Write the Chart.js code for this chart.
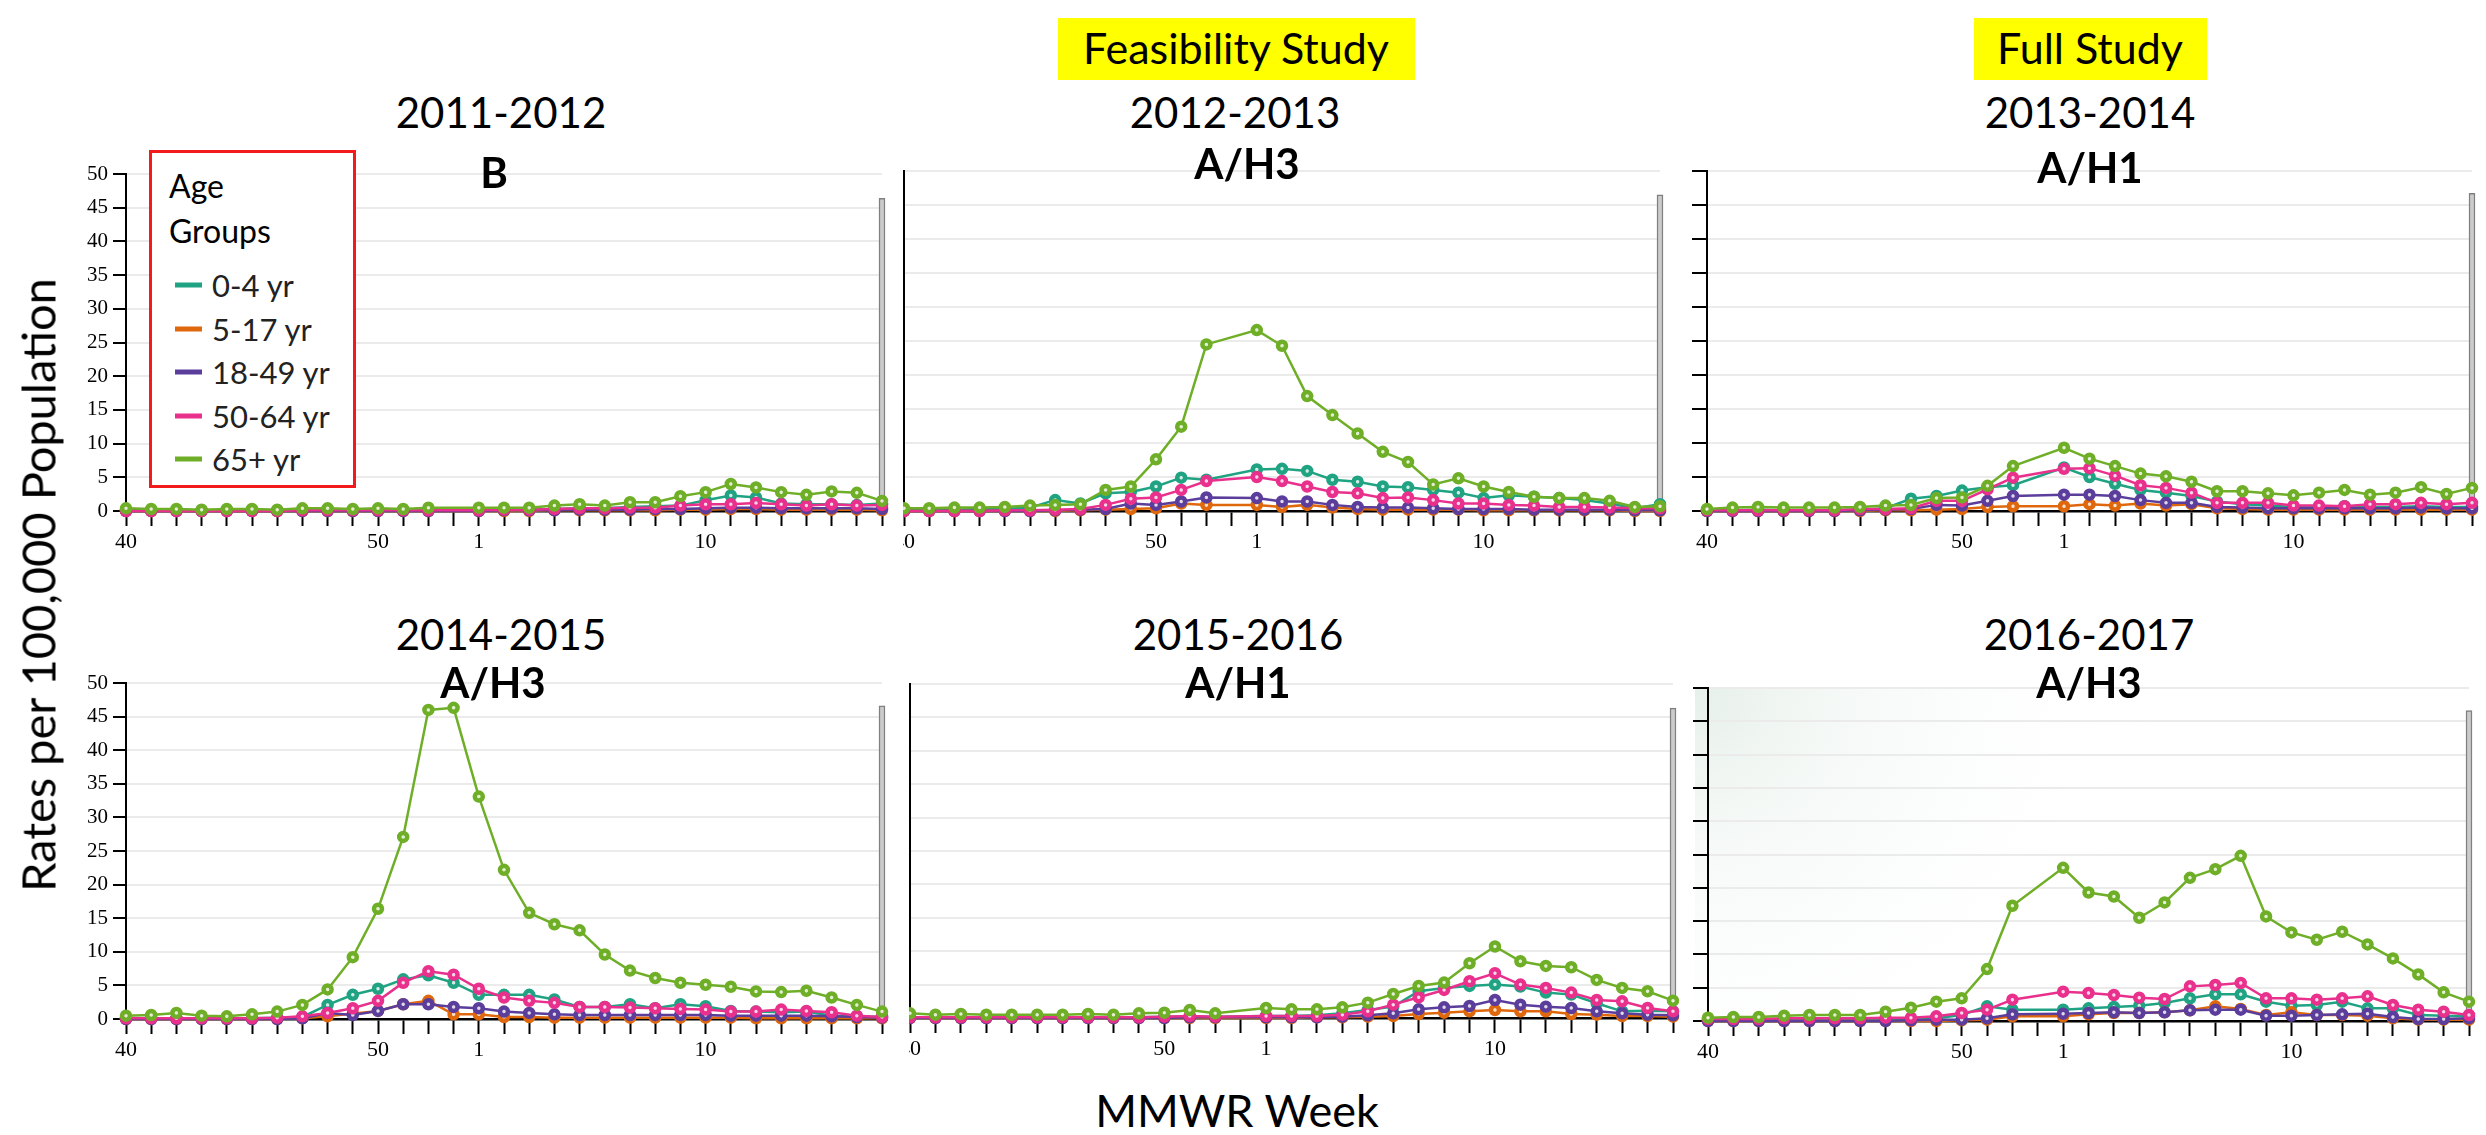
<!DOCTYPE html>
<html>
<head>
<meta charset="utf-8">
<title>Influenza hospitalization rates by age group</title>
<script src="https://cdn.jsdelivr.net/npm/chart.js@4.4.1/dist/chart.umd.min.js"></script>
<style>
  html, body { margin: 0; padding: 0; background: #fff; }
  #page { position: relative; width: 2486px; height: 1135px; overflow: hidden; font-family: Lato, sans-serif; }
  #page canvas { position: absolute; }
  .txt { position: absolute; transform: translate(-50%, -50%); white-space: nowrap; color: #000; line-height: 1; z-index: 5; }
  .tag { position: absolute; background: #ffff00; z-index: 4; }
  #legend { position: absolute; box-sizing: border-box; border: 3px solid #f21a1a; background: #fff; z-index: 6; }
  #legend .row { position: absolute; white-space: nowrap; line-height: 1; font-size: 31px; color: #222; transform: translateY(-50%); }
  #legend .sw { position: absolute; height: 5px; transform: translateY(-50%); }
</style>
</head>
<body>
<div id="page"></div>
<script>
// MMWR weeks on the x axis (week 53 only exists in 2014-2015)
const weekLabels = ['40','41','42','43','44','45','46','47','48','49','50','51','52','53',
  '1','2','3','4','5','6','7','8','9','10','11','12','13','14','15','16','17'];
const labeledWeeks = ['40', '50', '1', '10'];

const ageGroups = ['0-4 yr', '5-17 yr', '18-49 yr', '50-64 yr', '65+ yr'];
const ageColors = ['#1fa383', '#e0680c', '#5b3d9c', '#e8308c', '#6fae27'];

const seasons = ['2011-2012', '2012-2013', '2013-2014', '2014-2015', '2015-2016', '2016-2017'];
const strains = ['B', 'A/H3', 'A/H1', 'A/H3', 'A/H1', 'A/H3'];
const yTicks = [0, 5, 10, 15, 20, 25, 30, 35, 40, 45, 50];

// rates per 100,000
const s2011_0to4   = [0.1,0.1,0.1,0.1,0.1,0.2,0.1,0.2,0.3,0.1,0.1,0.1,0.1,null,0.1,0.1,0.2,0.3,0.4,0.4,0.6,0.7,0.8,1.6,2.3,2.0,1.1,1.0,1.0,0.9,1.1];
const s2011_5to17  = [0,0,0,0,0,0,0,0,0,0,0,0,0,null,0,0,0,0.1,0.1,0.1,0.1,0.1,0.2,0.2,0.3,0.3,0.2,0.2,0.2,0.2,0.1];
const s2011_18to49 = [0,0,0,0,0,0,0,0,0,0,0,0,0,null,0,0.1,0.1,0.1,0.2,0.2,0.2,0.3,0.3,0.4,0.5,0.5,0.4,0.4,0.4,0.4,0.3];
const s2011_50to64 = [0,0,0,0,0,0,0,0.1,0.1,0.1,0.1,0.1,0.1,null,0.1,0.2,0.2,0.3,0.4,0.4,0.5,0.5,0.8,1.0,1.0,1.2,1.0,0.8,1.0,0.8,0.9];
const s2011_65up   = [0.4,0.3,0.3,0.2,0.3,0.3,0.2,0.4,0.4,0.3,0.4,0.3,0.5,null,0.5,0.5,0.5,0.8,1.0,0.8,1.3,1.3,2.2,2.8,4.0,3.5,2.8,2.4,2.9,2.7,1.5];

const s2012_0to4   = [0.2,0.2,0.2,0.3,0.3,0.5,1.6,1.1,2.6,2.8,3.6,4.9,4.6,null,6.1,6.2,5.9,4.6,4.3,3.6,3.5,3.1,2.7,1.9,2.3,2.1,1.9,1.6,1.1,0.4,1.0];
const s2012_5to17  = [0,0,0,0,0,0,0,0.1,0.2,0.3,0.4,1.1,0.9,null,0.9,0.6,0.9,0.5,0.3,0.2,0.2,0.2,0.2,0.1,0.1,0.1,0.1,0.1,0.1,0,0];
const s2012_18to49 = [0,0,0,0,0,0,0.1,0.2,0.3,1.1,0.9,1.4,2.0,null,1.9,1.4,1.4,0.9,0.6,0.5,0.5,0.4,0.3,0.3,0.3,0.2,0.2,0.2,0.2,0.1,0.1];
const s2012_50to64 = [0,0,0,0,0.1,0.1,0.2,0.3,0.9,1.8,2.0,3.1,4.4,null,5.0,4.4,3.6,2.8,2.6,1.9,2.0,1.6,1.1,1.1,0.9,0.8,0.6,0.6,0.5,0.4,0.4];
const s2012_65up   = [0.4,0.4,0.5,0.5,0.6,0.8,0.9,1.0,3.1,3.6,7.6,12.4,24.5,null,26.6,24.3,16.9,14.1,11.4,8.7,7.2,3.9,4.8,3.6,2.8,2.1,1.9,1.9,1.5,0.6,0.7];

const s2013_0to4   = [0.1,0.1,0.2,0.1,0.1,0.1,0.2,0.4,1.8,2.2,3.0,3.5,3.8,null,6.4,5.0,4.0,3.1,2.7,2.2,1.4,1.0,0.8,0.6,0.6,0.7,0.6,0.6,0.7,0.6,0.6];
const s2013_5to17  = [0,0,0,0,0,0,0,0.1,0.1,0.2,0.3,0.6,0.7,null,0.7,1.0,0.8,1.1,0.8,1.0,0.4,0.3,0.2,0.2,0.2,0.2,0.2,0.2,0.2,0.2,0.2];
const s2013_18to49 = [0,0,0,0,0,0,0.1,0.2,0.3,0.9,0.8,1.5,2.2,null,2.4,2.4,2.2,1.6,1.2,1.2,0.6,0.5,0.4,0.4,0.4,0.4,0.4,0.4,0.5,0.4,0.4];
const s2013_50to64 = [0.1,0.1,0.1,0.1,0.1,0.1,0.3,0.3,0.4,1.5,1.5,3.2,4.9,null,6.2,6.3,5.2,3.8,3.4,2.7,1.2,1.2,1.2,0.8,0.8,0.7,1.0,1.0,1.2,1.0,1.2];
const s2013_65up   = [0.3,0.5,0.6,0.5,0.5,0.5,0.6,0.8,0.9,1.9,2.0,3.7,6.6,null,9.3,7.7,6.6,5.5,5.1,4.3,2.9,2.9,2.6,2.3,2.7,3.1,2.4,2.7,3.5,2.5,3.4];

const s2014_0to4   = [0.1,0.1,0.1,0.1,0.1,0.1,0.2,0.3,2.1,3.6,4.5,5.9,6.5,5.4,3.6,3.6,3.6,2.9,1.8,1.8,2.2,1.6,2.2,1.9,1.2,1.1,1.0,1.1,0.5,0.4,0.3];
const s2014_5to17  = [0,0,0,0,0,0,0,0.1,0.4,0.8,1.2,2.2,2.7,0.7,0.7,0.3,0.3,0.2,0.2,0.2,0.2,0.2,0.2,0.2,0.2,0.1,0.1,0.1,0.1,0.1,0.1];
const s2014_18to49 = [0,0,0,0,0,0,0,0.1,0.9,0.6,1.2,2.2,2.2,1.8,1.6,1.1,0.9,0.7,0.6,0.6,0.6,0.6,0.6,0.6,0.5,0.5,0.5,0.5,0.4,0.3,0.2];
const s2014_50to64 = [0.1,0.1,0.1,0.1,0.1,0.1,0.2,0.4,0.9,1.6,2.7,5.4,7.1,6.6,4.5,3.2,2.7,2.4,1.8,1.8,1.7,1.6,1.5,1.4,1.1,1.1,1.4,1.2,1.0,0.5,0.3];
const s2014_65up   = [0.5,0.6,0.9,0.5,0.4,0.7,1.1,2.1,4.4,9.2,16.4,27.1,46.0,46.3,33.1,22.2,15.8,14.1,13.2,9.6,7.2,6.1,5.4,5.1,4.8,4.1,4.0,4.2,3.2,2.1,1.1];

const s2015_0to4   = [0.1,0.1,0.1,0.1,0.1,0.1,0.1,0.1,0.1,0.1,0.2,0.2,0.2,null,0.3,0.3,0.4,0.7,1.2,1.7,4.0,4.5,4.8,5.0,4.7,3.8,3.5,2.2,1.0,1.1,1.0];
const s2015_5to17  = [0,0,0,0,0,0,0,0,0,0,0,0,0,null,0,0,0.1,0.1,0.2,0.3,0.6,0.8,1.0,1.2,1.0,1.0,0.6,0.5,0.3,0.3,0.2];
const s2015_18to49 = [0,0,0,0,0,0,0,0,0,0,0,0.1,0.1,null,0.1,0.1,0.1,0.2,0.4,0.7,1.3,1.6,1.8,2.7,2.0,1.7,1.5,1.0,0.7,0.5,0.4];
const s2015_50to64 = [0.1,0.1,0.1,0.1,0.1,0.1,0.1,0.1,0.1,0.1,0.2,0.3,0.2,null,0.3,0.3,0.3,0.5,1.0,2.0,3.1,4.2,5.5,6.7,5.0,4.5,3.8,2.7,2.5,1.5,1.0];
const s2015_65up   = [0.7,0.5,0.6,0.5,0.5,0.5,0.5,0.6,0.5,0.7,0.8,1.2,0.7,null,1.5,1.3,1.3,1.6,2.3,3.6,4.8,5.3,8.2,10.7,8.5,7.8,7.6,5.7,4.5,4.0,2.6];

const s2016_0to4   = [0.1,0.1,0.1,0.1,0.1,0.1,0.1,0.2,0.3,0.4,0.9,2.2,1.7,null,1.7,1.9,2.1,2.3,2.7,3.4,4.0,4.0,2.9,2.3,2.4,2.9,1.9,1.9,0.9,0.8,0.7];
const s2016_5to17  = [0,0,0,0,0,0,0,0,0,0,0.1,0.2,0.7,null,0.7,1.0,1.2,1.2,1.3,1.6,2.2,1.8,0.9,1.3,0.9,0.9,0.8,0.4,0.2,0.2,0.2];
const s2016_18to49 = [0,0,0,0,0,0,0,0,0.1,0.2,0.2,0.4,1.0,null,1.1,1.2,1.3,1.2,1.3,1.6,1.7,1.7,0.8,0.8,0.9,1.0,1.1,0.6,0.3,0.3,0.4];
const s2016_50to64 = [0.3,0.3,0.3,0.4,0.4,0.4,0.4,0.5,0.5,0.7,1.2,1.7,3.2,null,4.4,4.2,3.9,3.5,3.3,5.2,5.4,5.7,3.4,3.4,3.2,3.4,3.7,2.4,1.7,1.4,0.9];
const s2016_65up   = [0.5,0.6,0.6,0.8,0.9,0.9,0.9,1.4,2.0,2.9,3.4,7.8,17.3,null,23.0,19.3,18.7,15.5,17.8,21.5,22.8,24.8,15.7,13.3,12.2,13.4,11.5,9.4,7.0,4.3,2.9];

// height of the grey end-of-season marker in each panel
const markerHeights = [46.4, 46.5, 46.7, 46.6, 46.4, 46.6];

const seasonSeries = [
  [s2011_0to4, s2011_5to17, s2011_18to49, s2011_50to64, s2011_65up],
  [s2012_0to4, s2012_5to17, s2012_18to49, s2012_50to64, s2012_65up],
  [s2013_0to4, s2013_5to17, s2013_18to49, s2013_50to64, s2013_65up],
  [s2014_0to4, s2014_5to17, s2014_18to49, s2014_50to64, s2014_65up],
  [s2015_0to4, s2015_5to17, s2015_18to49, s2015_50to64, s2015_65up],
  [s2016_0to4, s2016_5to17, s2016_18to49, s2016_50to64, s2016_65up]
];

// page layout: plot area [left, top, right, bottom] and canvas [x, y, w, h]
const panelLayout = [
  { area: [126, 174, 882, 511],  canvas: [0, 150, 894, 410],    yAxis: 'labels', title: [501, 112],  sub: [494, 172] },
  { area: [904, 171, 1660, 511], canvas: [903, 150, 772, 410],  yAxis: 'line',   title: [1235, 112], sub: [1247, 163] },
  { area: [1707, 171, 2472, 511], canvas: [1690, 150, 796, 410], yAxis: 'ticks', title: [2090, 112], sub: [2090, 167] },
  { area: [126, 683, 882, 1019], canvas: [0, 660, 894, 410],    yAxis: 'labels', title: [501, 634],  sub: [493, 682] },
  { area: [910, 684, 1673, 1018], canvas: [909, 660, 778, 410], yAxis: 'line',   title: [1238, 634], sub: [1238, 682] },
  { area: [1708, 688, 2469, 1021], canvas: [1691, 660, 795, 410], yAxis: 'ticks', title: [2089, 634], sub: [2089, 682], shaded: true }
];

const page = document.getElementById('page');

function addText(str, x, y, css) {
  const d = document.createElement('div');
  d.className = 'txt';
  d.textContent = str;
  d.style.left = x + 'px';
  d.style.top = y + 'px';
  Object.assign(d.style, css || {});
  page.appendChild(d);
  return d;
}

// faint tint in the top-left of the last panel
const shadePlugin = {
  id: 'shade',
  beforeDraw(chart) {
    const { ctx, chartArea } = chart;
    const g = ctx.createRadialGradient(4, chartArea.top, 0, 4, chartArea.top, 460);
    g.addColorStop(0, 'rgba(220,233,226,0.7)');
    g.addColorStop(0.4, 'rgba(236,243,239,0.4)');
    g.addColorStop(1, 'rgba(255,255,255,0)');
    ctx.save();
    ctx.fillStyle = g;
    ctx.fillRect(4, chartArea.top, chart.width - 4, chartArea.bottom - chartArea.top);
    ctx.restore();
  }
};

panelLayout.forEach((p, n) => {
  const [L, T, R, B] = p.area;
  const [cx, cy, cw, ch] = p.canvas;
  const canvas = document.createElement('canvas');
  canvas.width = cw;
  canvas.height = ch;
  canvas.style.left = cx + 'px';
  canvas.style.top = cy + 'px';
  page.appendChild(canvas);

  const lines = ageGroups.map((g, k) => ({
    label: g,
    data: seasonSeries[n][k],
    borderColor: ageColors[k],
    backgroundColor: ageColors[k],
    borderWidth: 2.5,
    pointRadius: 4,
    pointBorderWidth: 4.5,
    pointBorderColor: ageColors[k],
    pointBackgroundColor: 'rgba(255,255,255,0.8)',
    tension: 0,
    spanGaps: true,
    clip: false,
    order: ageGroups.length - 1 - k
  }));
  const marker = {
    type: 'bar',
    label: 'end',
    data: weekLabels.map((w, i) => (i === weekLabels.length - 1 ? markerHeights[n] : null)),
    backgroundColor: '#cbcbcb',
    borderColor: '#808080',
    borderWidth: 1.5,
    borderSkipped: false,
    barThickness: 6,
    clip: false,
    order: 20
  };

  new Chart(canvas, {
    type: 'line',
    data: { labels: weekLabels, datasets: [marker, ...lines] },
    options: {
      responsive: false,
      animation: false,
      devicePixelRatio: 1,
      events: [],
      layout: { autoPadding: false, padding: { left: 0, top: T - cy, right: cx + cw - R, bottom: 0 } },
      plugins: { legend: { display: false }, tooltip: { enabled: false } },
      scales: {
        x: {
          offset: false,
          grid: { offset: false, drawOnChartArea: false, drawTicks: true, tickLength: 15, tickColor: '#000', tickWidth: 2 },
          border: { color: '#000', width: 2.5 },
          ticks: {
            autoSkip: false, maxRotation: 0, minRotation: 0, padding: 3, color: '#000',
            font: { family: 'Liberation Serif', size: 22 },
            callback(value) {
              const w = this.getLabelForValue(value);
              return labeledWeeks.includes(w) ? w : '';
            }
          },
          afterFit(s) { s.height = cy + ch - B; s.paddingLeft = 0; s.paddingRight = 0; }
        },
        y: {
          min: yTicks[0],
          max: yTicks[yTicks.length - 1],
          afterBuildTicks(s) { s.ticks = yTicks.map(v => ({ value: v })); },
          grid: {
            color: ctx => (ctx.tick && ctx.tick.value === 0 ? 'rgba(0,0,0,0)' : '#ebebeb'),
            lineWidth: 2,
            drawTicks: p.yAxis !== 'line',
            tickLength: p.yAxis === 'labels' ? 13 : 15,
            tickColor: '#000',
            tickWidth: 2
          },
          border: { color: '#000', width: 2 },
          ticks: {
            display: p.yAxis === 'labels',
            padding: 5,
            color: '#000',
            font: { family: 'Liberation Serif', size: 21 }
          },
          afterFit(s) { s.width = L - cx; s.paddingTop = 0; s.paddingBottom = 0; }
        }
      }
    },
    plugins: p.shaded ? [shadePlugin] : []
  });

  addText(seasons[n], p.title[0], p.title[1], { fontSize: '42px' });
  addText(strains[n], p.sub[0], p.sub[1], { fontSize: '42px', fontWeight: '700' });
});

// study labels
[['Feasibility Study', 1058, 357, 1236], ['Full Study', 1974, 233, 2090]].forEach(([txt, left, w, mid]) => {
  const box = document.createElement('div');
  box.className = 'tag';
  box.style.left = left + 'px';
  box.style.top = '18px';
  box.style.width = w + 'px';
  box.style.height = '62px';
  page.appendChild(box);
  addText(txt, mid, 47, { fontSize: '43px' });
});

// axis titles
addText('MMWR Week', 1237, 1110, { fontSize: '45px' });
addText('Rates per 100,000 Population', 38, 585, { fontSize: '47px', transform: 'translate(-50%,-50%) rotate(-90deg)' });

// legend box
const legend = document.createElement('div');
legend.id = 'legend';
legend.style.left = '149px';
legend.style.top = '150px';
legend.style.width = '207px';
legend.style.height = '338px';
page.appendChild(legend);
[['Age', 33], ['Groups', 78]].forEach(([t, y]) => {
  const r = document.createElement('div');
  r.className = 'row';
  r.textContent = t;
  r.style.left = '17px';
  r.style.top = y + 'px';
  r.style.fontSize = '32px';
  r.style.color = '#000';
  legend.appendChild(r);
});
ageGroups.forEach((g, k) => {
  const y = 132 + k * 43.5;
  const sw = document.createElement('div');
  sw.className = 'sw';
  sw.style.left = '23px';
  sw.style.top = y + 'px';
  sw.style.width = '27px';
  sw.style.background = ageColors[k];
  legend.appendChild(sw);
  const r = document.createElement('div');
  r.className = 'row';
  r.textContent = g;
  r.style.left = '60px';
  r.style.top = y + 'px';
  legend.appendChild(r);
});
</script>
</body>
</html>
